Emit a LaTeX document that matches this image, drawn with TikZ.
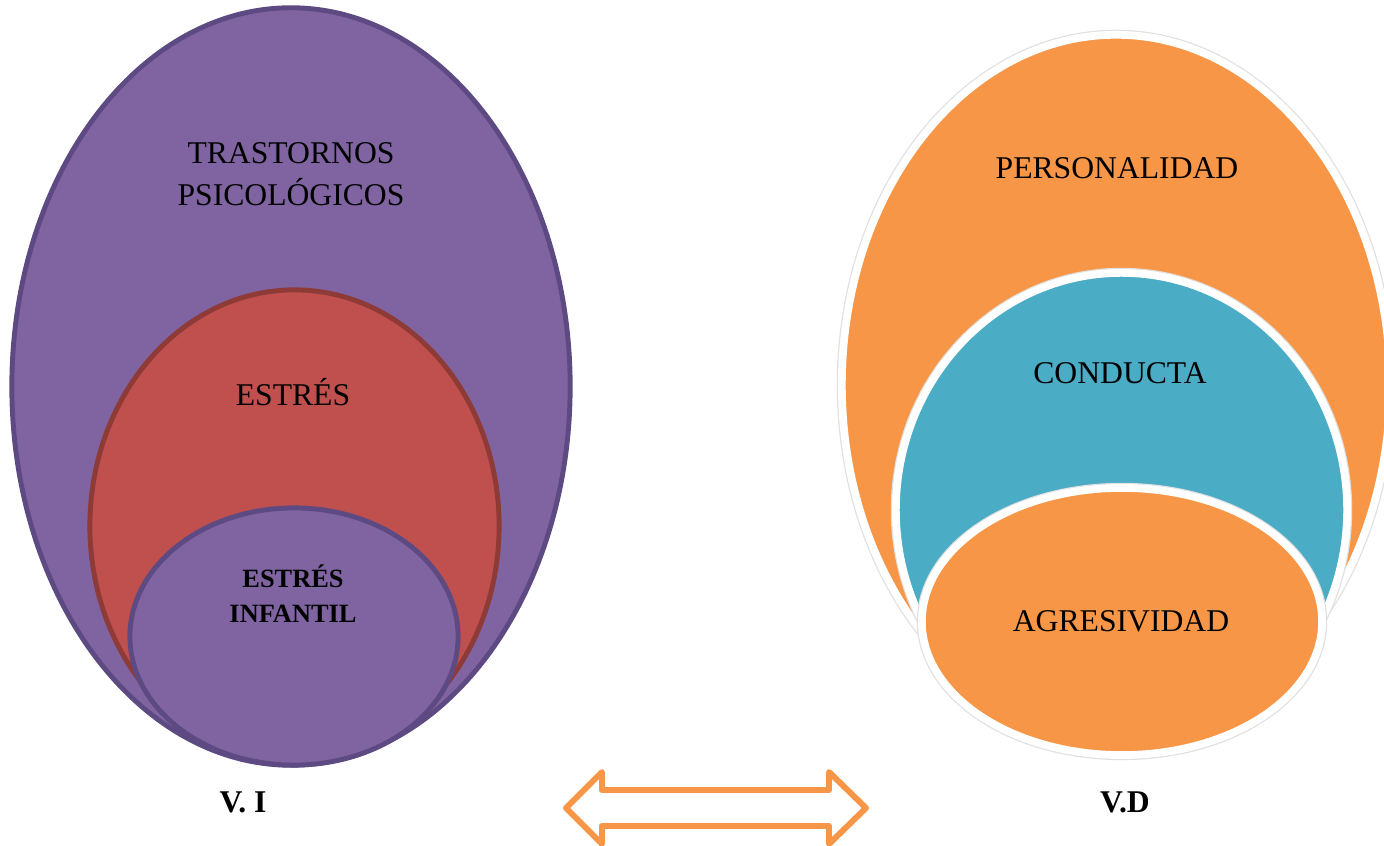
\documentclass[tikz,border=0pt]{standalone}
\usepackage{fontspec}
\setmainfont{Liberation Serif}
\definecolor{lila}{HTML}{8064A2}
\definecolor{lilaline}{HTML}{5E4A82}
\definecolor{rojo}{HTML}{C0504D}
\definecolor{rojoline}{HTML}{8E3B38}
\definecolor{naranja}{HTML}{F79646}
\definecolor{celeste}{HTML}{4BACC6}
\tikzset{
  vitext/.style={font=\fontsize{9}{12}\selectfont, align=center},
  vibold/.style={font=\fontsize{7.5}{10}\bfseries\selectfont, align=center},
  viring/.style={line width=1.4pt},
  vdring/.style={draw=white, line width=2.2pt,
    preaction={draw=black!12, line width=2.9pt}},
}
\begin{document}
\begin{tikzpicture}[x=0.01cm, y=-0.01cm]
	    \useasboundingbox (0,0) rectangle (1384,846);
	    % variable independiente
	    \draw[viring, draw=lilaline, fill=lila] (291,386.5) ellipse [x radius=2.79cm, y radius=3.785cm];
	    \draw[viring, draw=rojoline, fill=rojo] (294.5,526) ellipse [x radius=2.045cm, y radius=2.36cm];
	    \draw[viring, draw=lilaline, fill=lila] (294,636.5) ellipse [x radius=1.64cm, y radius=1.285cm];
		\node[vitext] (trastornos) at (291,174) {TRASTORNOS\\PSICOLÓGICOS};
		\node[vitext] (estres) at (293,392) {ESTRÉS};
		\node[vibold] (infantil) at (293,594) {ESTRÉS\\INFANTIL};
		\node[vitext, font=\fontsize{9}{12}\bfseries\selectfont] (vi) at (243,802) {V. I};
	
	    % variable dependiente
	    \draw[vdring, fill=naranja] (1116,385) ellipse [x radius=2.74cm, y radius=3.5cm];
	    \draw[vdring, fill=celeste] (1121.5,510) ellipse [x radius=2.255cm, y radius=2.37cm];
	    \draw[vdring, fill=naranja] (1122,621.5) ellipse [x radius=2cm, y radius=1.335cm];
		\node[vitext] (personalidad) at (1117,168) {PERSONALIDAD};
		\node[vitext] (conducta) at (1120,373) {CONDUCTA};
		\node[vitext] (agresividad) at (1121,621) {AGRESIVIDAD};
		\node[vitext, font=\fontsize{9}{12}\bfseries\selectfont] (vd) at (1125,802) {V.D};
	
	    % relacion
	    \draw[naranja, fill=white, line width=1.7pt, line join=round]
		(566,808) -- (602,772) -- (602,790) -- (829,790) -- (829,772) -- (866,808)
		-- (829,844) -- (829,826) -- (602,826) -- (602,844) -- cycle;
	\end{tikzpicture}
\end{document}
